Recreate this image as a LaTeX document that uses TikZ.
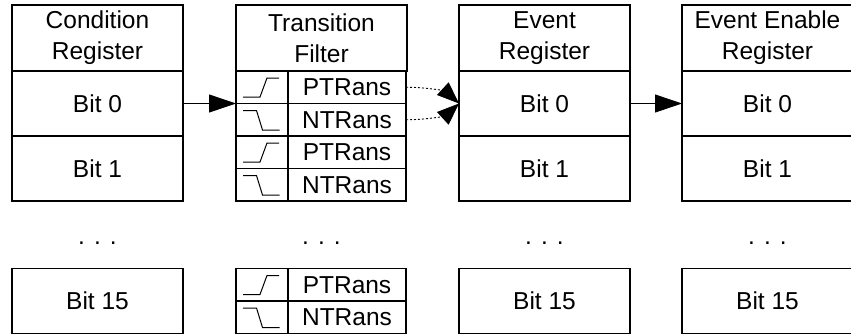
\documentclass[tikz,border=0pt]{standalone}
\usepackage{fontspec}
\setmainfont{Liberation Sans}
\usepackage{tikz}
\usetikzlibrary{
  arrows.meta,
  calc,
  positioning
}
\tikzset{
  regcell/.style={draw, rectangle, line width=1.1pt, inner sep=0pt, outer sep=0pt,
    minimum width=171pt, minimum height=65pt, align=center},
  reghead/.style={regcell, minimum height=66pt},
  symcell/.style={draw, rectangle, line width=1.1pt, inner sep=0pt, outer sep=0pt,
    minimum width=52pt, minimum height=32.5pt},
  transcell/.style={symcell, minimum width=118pt},
  flow/.style={line width=0.9pt, -{Triangle[length=27pt, width=18pt]}},
  dotflow/.style={line width=0.9pt, dash pattern=on 2pt off 2pt,
    -{Triangle[length=22pt, width=17pt]}},
  posedge/.pic={\draw[line width=1pt] (7,26) -- ++(17,0) -- ++(7,-19) -- ++(12,0);},
  negedge/.pic={\draw[line width=1pt] (7,7) -- ++(13.5,0) -- ++(6,19.5) -- ++(17,0);},
}
\begin{document}
\begin{tikzpicture}[x=1pt, y=-1pt, font=\fontsize{24.5}{31}\selectfont]
  \useasboundingbox (0,0) rectangle (851,333);
  % condition register
  \node[reghead, anchor=north west] (condh) at (12,5) {Condition\\Register};
  \node[regcell, below=0pt of condh] (cond0) {Bit 0};
  \node[regcell, below=0pt of cond0] (cond1) {Bit 1};
  \node[regcell, anchor=north west] (cond15) at (12,268.5) {Bit 15};
  % transition filter
  \node[reghead, anchor=north west] (filth) at (236,5) {Transition\\Filter};
  \node[symcell, anchor=north west] (ps0) at (filth.south west) {};
  \node[symcell, below=0pt of ps0] (ns0) {};
  \node[symcell, below=0pt of ns0] (ps1) {};
  \node[symcell, below=0pt of ps1] (ns1) {};
  \node[symcell, anchor=north west] (ps15) at (236,268.5) {};
  \node[symcell, below=0pt of ps15] (ns15) {};
  \foreach \s in {0,1,15} {
    \node[transcell, right=0pt of ps\s] (pt\s) {PTRans};
    \node[transcell, right=0pt of ns\s] (nt\s) {NTRans};
    \pic at (ps\s.north west) {posedge};
    \pic at (ns\s.north west) {negedge};
  }
  % event register
  \node[reghead, anchor=north west] (evh) at (459,5) {Event\\Register};
  \node[regcell, below=0pt of evh] (ev0) {Bit 0};
  \node[regcell, below=0pt of ev0] (ev1) {Bit 1};
  \node[regcell, anchor=north west] (ev15) at (459,268.5) {Bit 15};
  % event enable register
  \node[reghead, anchor=north west] (enh) at (682,5) {Event Enable\\Register};
  \node[regcell, below=0pt of enh] (en0) {Bit 0};
  \node[regcell, below=0pt of en0] (en1) {Bit 1};
  \node[regcell, anchor=north west] (en15) at (682,268.5) {Bit 15};
  % skipped bits
  \foreach \h in {condh,filth,evh,enh}
    \node[anchor=base, inner sep=0pt] (\h-dots) at (\h.south |- 0,244) {. . .};
  % connectors
  \draw[flow] (cond0.east) -- (ps0.south west);
  \draw[flow] (ev0.east) -- (en0.west);
  \draw[dotflow] (pt0.east) .. controls +(26,0) and +(-12,-11) .. (ev0.west);
  \draw[dotflow] (nt0.east) .. controls +(26,0) and +(-12,11) .. (ev0.west);
\end{tikzpicture}
\end{document}
